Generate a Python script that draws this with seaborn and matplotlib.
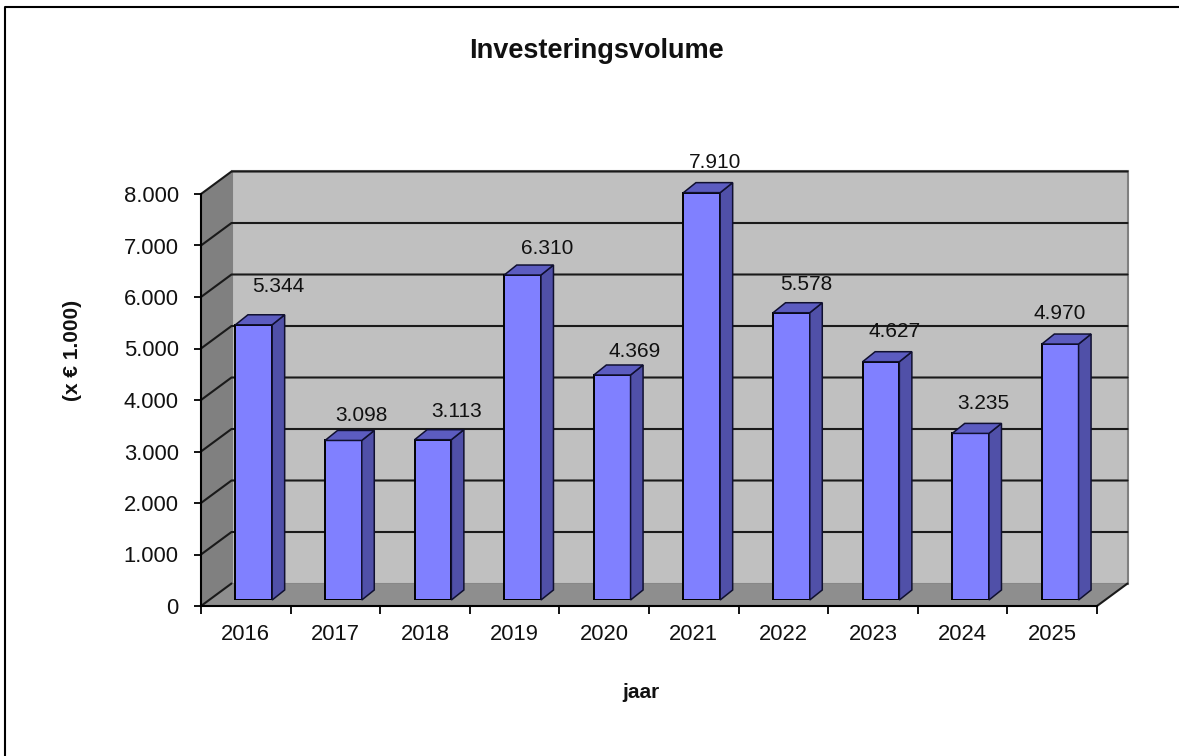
import matplotlib
matplotlib.use("Agg")
import matplotlib.pyplot as plt
from matplotlib.lines import Line2D
from matplotlib.patches import Polygon
from matplotlib.ticker import FuncFormatter
import pandas as pd
import seaborn as sns

# =====================================================
# DATA
# =====================================================

years = ["2016", "2017", "2018", "2019", "2020", "2021", "2022", "2023", "2024", "2025"]
volumes = [5344, 3098, 3113, 6310, 4369, 7910, 5578, 4627, 3235, 4970]
y_ticks = [0, 1000, 2000, 3000, 4000, 5000, 6000, 7000, 8000]

# label offsets from the bar top centre, in pixels
label_dx = [24, 18, 24, 25, 22, 13, 15, 14, 13, -1]
label_dy = [38, 25, 28, 27, 23, 30, 28, 30, 30, 31]

# =====================================================
# LAYOUT (pixels of the 1179x756 picture)
# =====================================================

W, H = 1179, 756
LEFT, RIGHT, TOP, BOTTOM = 201, 1097, 194, 606
WALL_DX, WALL_DY = 30.5, 22.5
BAR_SHIFT_X, BAR_SHIFT_Y = 8, -6
BAR_DX, BAR_DY = 12.5, 10

sns.set_theme(style="white")
plt.rcParams["font.family"] = ["Liberation Sans", "DejaVu Sans"]

df = pd.DataFrame({"jaar": years, "volume": volumes})

fig = plt.figure(figsize=(W / 100, H / 100), dpi=100, facecolor="white")


def rect(shift_x, shift_y):
    return [
        (LEFT + shift_x) / W,
        1 - (BOTTOM + shift_y) / H,
        (RIGHT - LEFT) / W,
        (BOTTOM - TOP) / H,
    ]


ax = fig.add_axes(rect(0, 0))
ax.set_xlim(-0.5, 9.5)
ax.set_ylim(0, 8000)
ax.set_zorder(1)

per_cat = (RIGHT - LEFT) / 10
per_val = (BOTTOM - TOP) / 8000
wdx = WALL_DX / per_cat
wdy = WALL_DY / per_val

# =====================================================
# WALLS AND FLOOR
# =====================================================

ax.add_patch(Polygon(
    [(-0.5 + wdx, wdy), (9.5 + wdx, wdy), (9.5 + wdx, 8000 + wdy), (-0.5 + wdx, 8000 + wdy)],
    facecolor="#C0C0C0", edgecolor="#808080", linewidth=1.5, clip_on=False, zorder=1,
))
ax.add_patch(Polygon(
    [(-0.5, 0), (-0.5 + wdx, wdy), (-0.5 + wdx, 8000 + wdy), (-0.5, 8000)],
    facecolor="#808080", edgecolor="none", clip_on=False, zorder=1,
))
ax.add_patch(Polygon(
    [(-0.5, 0), (9.5, 0), (9.5 + wdx, wdy), (-0.5 + wdx, wdy)],
    facecolor="#8E8E8E", edgecolor="none", clip_on=False, zorder=1,
))

for tick in y_ticks:
    line_x = [-0.5, -0.5 + wdx, 9.5 + wdx]
    line_y = [tick, tick + wdy, tick + wdy]
    if tick == 0:
        line_x = line_x[:2]
        line_y = line_y[:2]
    ax.plot(line_x, line_y, color="#1A1A1A", lw=1.5, clip_on=False, zorder=2)

ax.plot([9.5, 9.5 + wdx], [0, wdy], color="#1A1A1A", lw=1.5, clip_on=False, zorder=2)

# =====================================================
# AXES
# =====================================================

for side in ["top", "right"]:
    ax.spines[side].set_visible(False)
for side in ["left", "bottom"]:
    ax.spines[side].set_color("black")
    ax.spines[side].set_linewidth(1.5)
    ax.spines[side].set_zorder(3)

ax.patch.set_alpha(0)
ax.set_yticks(y_ticks)
ax.yaxis.set_major_formatter(FuncFormatter(lambda v, _: f"{int(v):,}".replace(",", ".")))
ax.set_xticks(range(len(years)))
ax.set_xticklabels(years)
ax.set_xticks([i - 0.5 for i in range(len(years) + 1)], minor=True)
ax.tick_params(axis="x", which="major", length=0, pad=13, labelsize=15.8, colors="#111111")
ax.tick_params(axis="x", which="minor", length=6, width=1.3, color="black", bottom=True)
ax.tick_params(axis="y", which="major", length=5, width=1.3, color="black", left=True,
               pad=11, labelsize=15.8, labelcolor="#111111")

# =====================================================
# BARS
# =====================================================

bar_ax = fig.add_axes(rect(BAR_SHIFT_X, BAR_SHIFT_Y))
bar_ax.set_zorder(2)

sns.barplot(
    data=df,
    x="jaar",
    y="volume",
    color="#8080FF",
    saturation=1,
    width=0.41,
    edgecolor="black",
    linewidth=1.4,
    ax=bar_ax,
)

bar_ax.set_xlim(-0.5, 9.5)
bar_ax.set_ylim(0, 8000)
bar_ax.axis("off")

bdx = BAR_DX / per_cat
bdy = BAR_DY / per_val

for i, bar in enumerate(bar_ax.patches):
    x0 = bar.get_x()
    x1 = x0 + bar.get_width()
    h = bar.get_height()

    bar_ax.add_patch(Polygon(
        [(x1, 0), (x1 + bdx, bdy), (x1 + bdx, h + bdy), (x1, h)],
        facecolor="#5050A8", edgecolor="#101030", linewidth=1.1, clip_on=False, zorder=3,
    ))
    bar_ax.add_patch(Polygon(
        [(x0, h), (x1, h), (x1 + bdx, h + bdy), (x0 + bdx, h + bdy)],
        facecolor="#5C5CC0", edgecolor="#101030", linewidth=1.1, clip_on=False, zorder=3,
    ))

    bar_ax.annotate(
        f"{int(h):,}".replace(",", "."),
        xy=((x0 + x1) / 2, h),
        xytext=(label_dx[i] * 0.72, label_dy[i] * 0.72),
        textcoords="offset points",
        ha="center",
        va="center",
        fontsize=15,
        color="#111111",
        annotation_clip=False,
        zorder=5,
    )

# =====================================================
# TEXT AND BORDER
# =====================================================

fig.text(596 / W, 1 - 51 / H, "Investeringsvolume", ha="center", va="center",
         fontsize=19.5, fontweight="bold", color="#111111")
fig.text(641 / W, 1 - 693 / H, "jaar", ha="center", va="center",
         fontsize=15, fontweight="bold", color="#111111")
fig.text(73 / W, 1 - 350 / H, "(x € 1.000)", ha="center", va="center", rotation=90,
         fontsize=15, fontweight="bold", color="#111111")

fig.add_artist(Line2D([4.5 / W, 4.5 / W, 1], [0, 1 - 7 / H, 1 - 7 / H],
                      color="black", lw=1.5, transform=fig.transFigure))

fig.savefig("out.png", dpi=100)
plt.close(fig)
